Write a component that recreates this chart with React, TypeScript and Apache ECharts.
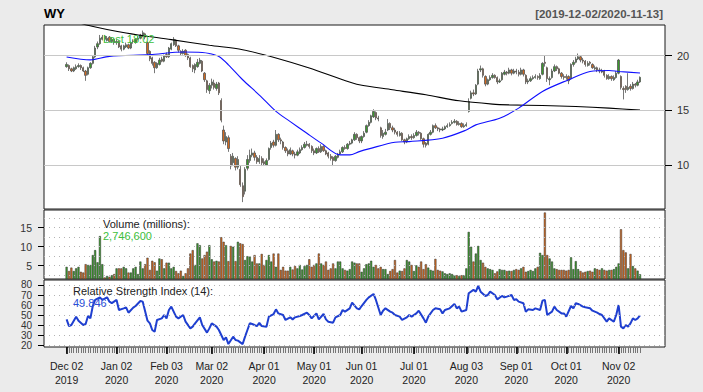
import React, { useEffect, useRef } from 'react';
import * as echarts from 'echarts';

const SYMBOL = 'WY';
const START = '2019-12-02';
const END = '2020-11-13';
const HOLIDAYS = ['2019-12-25', '2020-01-01', '2020-01-20', '2020-02-17', '2020-04-10', '2020-05-25', '2020-07-03', '2020-09-07'];
const MONTHS = ['Jan', 'Feb', 'Mar', 'Apr', 'May', 'Jun', 'Jul', 'Aug', 'Sep', 'Oct', 'Nov', 'Dec'];

const opens = [
  19.0, 19.1, 18.8, 18.6, 18.8, 19.0, 19.1, 18.9, 18.6, 18.3, 18.9, 19.3, 19.9, 20.8, 21.1, 21.5, 21.8, 21.4, 21.7, 21.3, 21.5,
  21.2, 21.3, 20.9, 20.6, 20.8, 21.0, 20.7, 21.3, 21.2, 21.5, 21.6, 21.8, 22.0, 21.2, 20.4, 19.8, 19.4, 18.9, 19.2, 19.7, 19.5,
  20.1, 19.9, 20.6, 21.0, 21.4, 20.9, 20.4, 20.2, 20.5, 20.1, 19.8, 19.1, 18.7, 19.0, 19.3, 19.5, 18.4, 17.7, 16.8,
  17.3, 17.5, 17.0, 17.5, 15.9, 13.2, 12.1, 12.5, 10.8, 10.2, 10.6, 9.8, 9.6, 8.1, 7.6, 9.7, 10.4, 10.9, 11.1, 10.7, 10.3, 10.6,
  10.3, 10.0, 10.5, 11.6, 12.1, 11.8, 12.8, 12.3, 12.1, 11.6, 11.3, 11.0, 11.3, 11.0, 10.9, 11.1, 11.4, 11.6, 11.8, 11.9, 11.7,
  11.3, 11.1, 11.5, 11.2, 11.7, 11.3, 11.1, 10.8, 10.7, 10.4, 10.7, 11.0, 11.2, 11.6, 11.5, 11.9, 12.0, 12.3, 12.8, 12.5,
  12.2, 12.6, 13.0, 13.6, 13.9, 14.4, 14.8, 14.3, 13.4, 12.6, 12.8, 13.2, 13.8, 13.4, 13.2, 13.0, 12.7, 12.9, 12.3, 12.1, 12.4, 12.6,
  12.5, 12.7, 13.0, 12.9, 12.4, 12.0, 11.9, 12.8, 13.0, 13.6, 13.4, 13.3, 13.2, 13.3, 13.5, 13.6, 13.8, 13.9, 14.0, 13.7, 13.8, 13.5,
  13.6, 14.9, 16.1, 16.6, 16.5, 17.4, 18.7, 18.8, 18.1, 17.4, 17.8, 18.0, 18.2, 18.0, 17.6, 17.8, 18.3, 18.5, 18.4, 18.7, 18.4,
  18.6, 18.5, 18.3, 18.7, 18.2, 17.6, 17.7, 17.9, 18.0, 18.1, 17.9, 18.3, 19.4, 18.9, 17.8, 18.0, 18.6, 19.0, 18.8, 18.4, 18.1,
  18.1, 18.1, 17.9, 19.2, 19.4, 19.7, 19.9, 19.6, 19.5, 19.1, 19.4, 19.2, 18.8, 18.9, 18.7, 18.5, 18.6, 18.2, 17.9, 18.1, 17.8, 18.0,
  18.4, 18.1, 17.0, 17.2, 16.9, 17.2, 17.0, 17.4, 17.3, 17.6,
];

const highs = [
  19.4, 19.2, 18.9, 19.0, 19.2, 19.3, 19.2, 19.0, 18.7, 19.0, 19.4, 20.0, 20.9, 21.3, 21.9, 21.9, 21.9, 21.8, 21.8, 21.7, 21.6,
  21.5, 21.4, 21.0, 21.0, 21.2, 21.1, 21.3, 21.5, 21.6, 21.8, 22.0, 22.3, 22.1, 21.3, 20.5, 19.9, 19.5, 19.4, 19.8, 19.9, 20.1,
  20.3, 20.8, 21.2, 21.7, 21.5, 21.0, 20.5, 20.6, 20.6, 20.2, 19.9, 19.2, 19.3, 19.7, 19.8, 19.6, 18.5, 17.8, 17.5,
  17.9, 17.8, 17.6, 17.6, 16.1, 13.6, 13.0, 12.7, 11.0, 11.1, 10.7, 10.8, 9.9, 8.4, 9.8, 10.9, 11.4, 11.5, 11.3, 10.9, 10.9, 10.8,
  10.6, 10.6, 11.6, 12.2, 12.3, 13.2, 12.9, 12.5, 12.2, 11.7, 11.5, 11.6, 11.4, 11.2, 11.4, 11.6, 11.8, 12.1, 12.2, 12.0, 11.8,
  11.5, 11.6, 11.7, 11.9, 11.8, 11.4, 11.2, 11.0, 10.8, 10.9, 11.1, 11.4, 11.7, 11.8, 12.0, 12.2, 12.4, 13.0, 12.9, 12.6,
  12.7, 13.1, 13.7, 14.1, 14.6, 15.1, 14.9, 14.5, 13.5, 13.2, 13.3, 14.2, 13.9, 13.6, 13.4, 13.1, 13.1, 13.0, 12.4, 12.5, 12.8, 12.8,
  12.9, 13.2, 13.1, 13.0, 12.5, 12.1, 12.9, 13.2, 13.7, 13.8, 13.5, 13.4, 13.5, 13.6, 13.8, 13.9, 14.1, 14.2, 14.1, 14.0, 13.9, 13.8,
  13.9, 16.1, 16.8, 16.9, 17.4, 18.8, 19.1, 18.9, 18.2, 17.9, 18.2, 18.4, 18.3, 18.1, 17.9, 18.5, 18.7, 18.6, 18.9, 18.8, 18.8,
  18.8, 18.7, 18.9, 18.8, 18.3, 17.9, 18.1, 18.2, 18.3, 18.2, 18.4, 19.4, 20.0, 19.0, 18.1, 18.8, 19.2, 19.1, 18.9, 18.5, 18.3,
  18.3, 18.2, 19.3, 19.6, 19.9, 20.2, 20.0, 19.8, 19.6, 19.5, 19.5, 19.3, 19.1, 19.0, 18.9, 18.8, 18.7, 18.3, 18.3, 18.2, 18.2, 18.6,
  19.7, 18.2, 17.2, 17.3, 18.4, 17.4, 17.6, 17.5, 17.8, 18.1,
];

const lows = [
  18.9, 18.6, 18.5, 18.5, 18.7, 18.9, 18.7, 18.5, 17.7, 18.2, 18.8, 19.2, 19.8, 20.6, 21.0, 21.4, 21.3, 21.3, 21.2, 21.2, 21.0,
  21.0, 20.7, 20.4, 20.5, 20.7, 20.6, 20.6, 21.1, 21.1, 21.4, 21.5, 21.7, 21.5, 20.0, 19.5, 19.1, 18.4, 18.8, 19.1, 19.4, 19.4,
  19.8, 19.8, 20.5, 20.9, 20.8, 20.3, 20.0, 20.1, 19.9, 19.6, 18.9, 18.5, 18.4, 18.9, 19.2, 18.5, 17.6, 16.6, 16.5,
  17.0, 16.9, 16.8, 16.4, 13.9, 11.9, 11.8, 11.2, 9.6, 9.9, 9.5, 9.6, 8.0, 6.6, 7.3, 9.5, 10.2, 10.7, 10.4, 10.1, 10.1, 9.9,
  9.9, 9.9, 10.4, 11.4, 11.6, 11.7, 12.1, 11.9, 11.4, 11.1, 10.8, 10.9, 10.8, 10.6, 10.8, 11.0, 11.3, 11.5, 11.7, 11.5, 11.1,
  10.9, 11.0, 11.1, 11.1, 11.2, 10.9, 10.6, 10.4, 9.9, 10.3, 10.6, 10.9, 11.1, 11.4, 11.4, 11.8, 11.9, 12.2, 12.3, 12.0,
  12.0, 12.5, 12.9, 13.5, 13.8, 14.3, 14.1, 14.0, 12.5, 12.4, 12.7, 13.1, 13.2, 13.0, 12.8, 12.6, 12.6, 12.2, 11.9, 12.0, 12.3, 12.3,
  12.4, 12.6, 12.7, 12.3, 11.6, 11.6, 11.8, 12.7, 12.9, 13.3, 13.1, 13.0, 13.1, 13.2, 13.4, 13.5, 13.7, 13.8, 13.6, 13.6, 13.4, 13.4,
  13.5, 14.8, 16.0, 16.3, 16.4, 17.3, 18.5, 18.0, 17.2, 17.3, 17.7, 17.9, 17.9, 17.4, 17.5, 17.7, 18.2, 18.2, 18.3, 18.2, 18.3,
  18.3, 18.1, 18.2, 18.1, 17.4, 17.4, 17.6, 17.8, 17.9, 17.8, 17.8, 18.2, 19.0, 17.6, 17.3, 17.9, 18.5, 18.6, 18.3, 17.9, 17.8,
  17.8, 17.4, 17.8, 19.0, 19.3, 19.6, 19.4, 19.3, 19.0, 19.0, 19.1, 18.8, 18.7, 18.5, 18.4, 18.4, 18.0, 17.8, 17.8, 17.7, 17.7, 17.9,
  18.3, 16.9, 16.0, 16.6, 16.8, 16.8, 16.9, 17.1, 17.2, 17.5,
];

const closes = [
  19.2, 18.8, 18.6, 18.9, 19.0, 19.1, 18.9, 18.6, 18.2, 18.9, 19.3, 19.9, 20.7, 21.1, 21.6, 21.7, 21.5, 21.6, 21.3, 21.5, 21.2,
  21.3, 20.8, 20.6, 20.9, 21.0, 20.7, 21.2, 21.3, 21.5, 21.6, 21.9, 22.1, 21.7, 20.2, 19.7, 19.3, 18.9, 19.3, 19.6, 19.5, 20.0,
  19.9, 20.7, 21.1, 21.5, 20.9, 20.5, 20.2, 20.4, 20.0, 19.8, 19.0, 18.8, 19.2, 19.4, 19.6, 18.6, 17.8, 16.9, 17.3,
  17.6, 17.1, 17.4, 16.6, 14.1, 12.2, 12.6, 11.5, 9.9, 10.8, 9.8, 10.5, 8.2, 7.1, 9.6, 10.5, 10.9, 11.1, 10.7, 10.3, 10.6, 10.2,
  10.1, 10.4, 11.5, 12.0, 11.8, 12.8, 12.3, 12.2, 11.6, 11.3, 11.0, 11.4, 11.0, 10.9, 11.2, 11.4, 11.6, 11.9, 11.9, 11.7, 11.3,
  11.1, 11.5, 11.2, 11.7, 11.3, 11.0, 10.8, 10.6, 10.4, 10.8, 11.0, 11.2, 11.6, 11.5, 11.9, 12.0, 12.3, 12.8, 12.5, 12.2,
  12.6, 12.9, 13.6, 13.9, 14.5, 14.9, 14.3, 14.2, 12.7, 12.9, 13.0, 13.8, 13.4, 13.2, 13.0, 12.8, 12.9, 12.3, 12.1, 12.4, 12.6, 12.5,
  12.7, 13.0, 12.9, 12.4, 11.9, 11.8, 12.8, 13.0, 13.6, 13.4, 13.3, 13.2, 13.3, 13.5, 13.6, 13.7, 13.9, 14.0, 13.7, 13.8, 13.5, 13.6,
  13.7, 15.8, 16.6, 16.5, 17.3, 18.6, 18.8, 18.2, 17.4, 17.8, 18.0, 18.2, 18.0, 17.6, 17.7, 18.4, 18.5, 18.4, 18.7, 18.4, 18.6,
  18.5, 18.3, 18.7, 18.3, 17.6, 17.7, 17.9, 18.0, 18.1, 18.0, 18.2, 19.3, 19.3, 17.9, 17.9, 18.6, 19.0, 18.8, 18.4, 18.1, 18.0,
  18.0, 17.7, 19.2, 19.4, 19.7, 19.9, 19.6, 19.5, 19.2, 19.3, 19.3, 18.9, 18.9, 18.7, 18.6, 18.6, 18.2, 17.9, 18.1, 17.9, 18.0, 18.4,
  19.6, 17.1, 16.9, 16.9, 17.1, 17.0, 17.4, 17.3, 17.6, 18.02,
];

// volume, millions of shares
const volumes = [
  4.7, 3.6, 4.5, 3.6, 4.3, 4.7, 3.4, 3.2, 5.4, 5.2, 5.2, 7.8, 9.1, 5.9, 12.8, 5.4, 1.9, 2.3, 2.1, 2.5, 2.8,
  4.3, 4.3, 4.3, 4.7, 4.3, 3.2, 3.2, 4.3, 4.7, 2.8, 6.1, 4.3, 5.4, 7.1, 3.9, 6.3, 5.9, 3.7, 6.9, 6.7, 4.3,
  5.8, 5.8, 4.3, 4.7, 3.6, 3.0, 3.7, 2.3, 3.0, 4.3, 8.2, 9.1, 5.2, 10.9, 10.4, 6.9, 7.8, 8.7, 10.4,
  6.7, 6.1, 6.3, 6.1, 12.5, 11.3, 10.4, 6.2, 10.2, 10.0, 6.2, 11.3, 10.9, 10.7, 6.5, 7.5, 7.4, 6.1, 7.8, 5.6, 5.6, 8.1,
  5.2, 6.5, 7.8, 6.1, 8.2, 4.7, 8.2, 3.9, 4.7, 3.7, 3.7, 4.7, 4.0, 4.9, 4.3, 5.2, 4.0, 4.9, 5.2, 6.7, 4.7,
  5.2, 5.6, 8.2, 5.6, 5.2, 6.1, 3.9, 4.3, 5.6, 4.3, 6.1, 6.1, 4.3, 3.9, 3.7, 4.1, 6.1, 5.8, 5.6, 5.6,
  3.4, 4.3, 5.4, 5.6, 6.3, 4.7, 5.2, 4.3, 4.7, 4.1, 4.1, 2.8, 3.6, 4.1, 6.5, 3.2, 3.7, 3.6, 4.3, 6.5, 6.1, 5.2,
  3.6, 5.1, 4.7, 6.1, 4.1, 5.4, 4.5, 3.9, 3.7, 6.8, 3.9, 3.7, 3.5, 3.0, 2.8, 3.0, 2.8, 2.5, 2.5, 2.3, 2.5, 2.5,
  4.3, 13.9, 10.0, 6.1, 8.2, 10.2, 6.5, 5.8, 4.7, 4.3, 4.1, 3.9, 3.0, 3.5, 4.1, 3.9, 3.9, 3.6, 3.7, 3.6, 3.9,
  4.1, 3.9, 4.3, 4.7, 3.4, 3.6, 3.9, 3.6, 4.3, 4.7, 8.4, 7.8, 19.0, 7.8, 6.9, 6.1, 4.3, 4.1, 3.9, 3.9, 3.9,
  3.7, 3.9, 7.2, 4.1, 6.2, 4.1, 3.6, 3.2, 3.4, 3.6, 3.7, 3.4, 4.3, 4.1, 3.9, 4.3, 3.9, 3.7, 3.9, 3.9, 4.1, 4.7,
  5.6, 14.6, 9.1, 8.5, 4.3, 8.1, 4.9, 4.3, 3.7, 2.7466,
];

// [trading-day index, value]
const sma50Pts = [
  [0, 19.88], [10, 19.62], [18, 19.94], [35, 20.1], [49, 20.34], [57, 20.3], [60, 20.2], [64, 19.92], [68, 19.17],
  [74, 17.8], [81, 16.4], [88, 14.9], [94, 13.97], [101, 12.9], [107, 12.0], [115, 10.92], [119, 10.92], [123, 11.22],
  [127, 11.47], [138, 12.08], [144, 12.14], [158, 12.45], [168, 13.2], [172, 13.67], [182, 14.28], [190, 15.2],
  [200, 16.73], [211, 17.8], [220, 18.56], [228, 18.65], [232, 18.56], [241, 18.41],
];

const sma200Pts = [
  [0, 23.4], [8, 22.84], [25, 22.08], [44, 21.47], [60, 20.95], [74, 20.55], [88, 19.79], [102, 18.87], [116, 17.8],
  [123, 17.34], [137, 16.88], [151, 16.42], [165, 15.87], [179, 15.57], [186, 15.5], [200, 15.44], [214, 15.35],
  [228, 15.2], [241, 15.02],
];

const rsiPts = [
  [0, 46], [1, 39.4], [2, 40.4], [4, 48.7], [5, 44.7], [7, 40.4], [8, 41.4], [9, 49.3], [10, 47], [11, 59.2], [12, 65.2],
  [14, 67.8], [15, 65.2], [17, 67.8], [18, 63.5], [19, 62], [21, 65.2], [22, 55.3], [24, 56.9], [25, 57.9], [26, 52.6],
  [28, 57.6], [29, 59.2], [31, 64.2], [32, 63.5], [34, 44.7], [35, 42.1], [36, 35.5], [37, 33.8], [38, 45.4], [40, 47],
  [41, 50.3], [42, 47], [43, 55.3], [44, 58.6], [46, 48.7], [47, 47], [49, 50.3], [50, 43.7], [52, 37.1], [53, 38.8],
  [54, 42.1], [56, 48], [57, 40.4], [59, 32.9], [60, 37.1], [61, 42.1], [63, 38.8], [64, 35.5], [66, 25.6], [67, 28.2],
  [68, 21.6], [70, 28.9], [71, 25.6], [72, 25], [74, 21.6], [75, 28.9], [76, 35.5], [77, 42.1], [78, 41.4], [80, 39.4],
  [81, 42.7], [82, 39.4], [84, 38.8], [85, 48.7], [87, 51.3], [88, 55.9], [89, 51.9], [91, 50.3], [92, 45.4], [94, 48],
  [95, 46], [96, 48], [98, 49.3], [99, 50.3], [101, 52.6], [102, 50.3], [103, 47], [105, 51.9], [106, 46], [108, 51.3],
  [109, 46], [110, 43.7], [112, 42.7], [113, 48], [115, 50.3], [116, 55.3], [117, 53.6], [119, 56.9], [120, 62.5],
  [122, 56.9], [123, 55.9], [124, 59.2], [126, 65.2], [127, 67.8], [129, 71.1], [130, 65.2], [132, 50.3], [133, 54.6],
  [134, 56.9], [136, 53.6], [137, 52.6], [138, 50.3], [140, 48.7], [141, 45.4], [143, 48], [144, 50.3], [145, 48.7],
  [147, 51.9], [148, 54.6], [150, 47], [151, 42.7], [152, 48.7], [154, 55.3], [155, 56.9], [157, 55.9], [158, 51.9],
  [159, 55.3], [161, 56.9], [163, 61.2], [164, 56.9], [165, 58.6], [166, 53.6], [168, 55.3], [169, 71.8], [171, 75.1],
  [172, 73.4], [173, 79], [174, 73.4], [176, 69.1], [177, 70.1], [178, 73.4], [180, 70.1], [181, 65.8], [183, 69.1],
  [184, 67.8], [185, 68.5], [187, 70.1], [188, 65.2], [189, 65.8], [190, 63.5], [192, 61.9], [193, 53.6], [194, 55.9],
  [196, 55.3], [197, 56.9], [199, 55.3], [200, 64.5], [201, 65.2], [202, 50.3], [204, 53.6], [205, 58.6], [206, 55.3],
  [208, 51.9], [209, 51.9], [210, 48.7], [212, 59.2], [213, 56.9], [214, 61.9], [215, 61.2], [217, 58.6], [218, 57.9],
  [220, 56.9], [221, 54.6], [223, 52.6], [224, 51.3], [225, 50.3], [227, 43.7], [228, 47], [230, 43.7], [231, 50.3],
  [232, 60.2], [233, 38.8], [234, 37.1], [235, 40.4], [236, 38.8], [237, 42.1], [238, 47], [239, 45.4], [240, 47],
  [241, 49.846],
];

const priceTicks = [10, 15, 20];
const volTicks = [5, 10, 15];
const volGridLines = [2.5, 5, 7.5, 10, 12.5, 15, 17.5];
const rsiTicks = [20, 30, 40, 50, 60, 70, 80];

const PRICE_RANGE = [5.97, 22.81];
const VOL_RANGE = [1.5, 19.66];
const RSI_RANGE = [18.7, 84.9];

const PAD_L = 9;
const PAD_R = 10;
const FONT = '"Liberation Sans", Arial, Helvetica, sans-serif';
const UP = '#3a9a2c';
const DOWN = '#d2691e';

function tradingDays(start: string, end: string, holidays: string[]): string[] {
  const out: string[] = [];
  const d = new Date(start + 'T00:00:00Z');
  const e = new Date(end + 'T00:00:00Z');
  while (d.getTime() <= e.getTime()) {
    const wd = d.getUTCDay();
    const s = d.toISOString().slice(0, 10);
    if (wd !== 0 && wd !== 6 && holidays.indexOf(s) < 0) out.push(s);
    d.setUTCDate(d.getUTCDate() + 1);
  }
  return out;
}

export default function App() {
  const ref = useRef<HTMLDivElement>(null);

  useEffect(() => {
    document.body.style.margin = '0';
    document.body.style.background = '#ebebeb';
    const chart = echarts.init(ref.current!, null, { renderer: 'svg' });

    const dates = tradingDays(START, END, HOLIDAYS);
    const padL = Array.from({ length: PAD_L }, (_, k) => '_L' + k);
    const padR = Array.from({ length: PAD_R }, (_, k) => '_R' + k);
    const cats = [...padL, ...dates, ...padR];

    const monthStarts = new Set<string>();
    dates.forEach((d, i) => {
      if (i === 0 || d.slice(0, 7) !== dates[i - 1].slice(0, 7)) monthStarts.add(d);
    });
    const isReal = (_i: number, v: string) => typeof v === 'string' && !v.startsWith('_');
    const isMonth = (_i: number, v: string) => monthStarts.has(v);
    const fmtDate = (v: string) => {
      if (!monthStarts.has(v)) return '';
      const [y, m, d] = v.split('-');
      return MONTHS[parseInt(m, 10) - 1] + ' ' + d + '\n' + y;
    };

    const emptyL = padL.map(() => '-');
    const emptyR = padR.map(() => '-');
    const candleData: any[] = [
      ...padL.map(() => ['-', '-', '-', '-']),
      ...closes.map((c, i) => [opens[i], c, lows[i], highs[i]]),
      ...padR.map(() => ['-', '-', '-', '-']),
    ];
    const volData: any[] = [
      ...emptyL,
      ...volumes.map((v, i) => ({ value: v, itemStyle: { color: closes[i] >= opens[i] ? UP : DOWN } })),
      ...emptyR,
    ];
    const shift = (pts: number[][]) => pts.map(([i, v]) => [i + PAD_L, v]);

    const last = closes.length - 1;
    const lastClose = closes[last].toFixed(2);
    const lastVol = Math.round(volumes[last] * 1e6).toLocaleString('en-US');
    const lastRsi = rsiPts[rsiPts.length - 1][1].toFixed(3);

    const gridBase = { left: 44, width: 621, show: true, backgroundColor: '#ffffff', borderColor: '#1a1a1a', borderWidth: 1 };
    const hiddenX = (gi: number) => ({ type: 'category', gridIndex: gi, data: cats, show: false, boundaryGap: true });
    const axisText = { fontFamily: FONT, fontSize: 10.5, color: '#333' };

    const gridMark = (vals: number[], style: any) => ({
      silent: true,
      symbol: ['none', 'none'],
      label: { show: false },
      emphasis: { disabled: true },
      animation: false,
      lineStyle: style,
      data: vals.map((v) => ({ yAxis: v })),
    });

    const option: any = {
      animation: false,
      backgroundColor: '#ebebeb',
      textStyle: { fontFamily: FONT },
      grid: [
        { ...gridBase, top: 25, height: 184 },
        { ...gridBase, top: 210, height: 69 },
        { ...gridBase, top: 280, height: 67 },
      ],
      xAxis: [
        hiddenX(0),
        hiddenX(1),
        {
          type: 'category', gridIndex: 2, data: cats, boundaryGap: true, position: 'bottom', offset: 0,
          axisLine: { show: false },
          axisTick: { show: true, interval: isReal, alignWithLabel: true, length: 6, lineStyle: { color: '#777', width: 1 } },
          axisLabel: { show: false },
          splitLine: { show: false },
        },
        {
          type: 'category', gridIndex: 2, data: cats, boundaryGap: true, position: 'bottom', offset: 0,
          axisLine: { show: false },
          axisTick: { show: true, interval: isMonth, alignWithLabel: true, length: 7, lineStyle: { color: '#000', width: 1.6 } },
          axisLabel: { show: true, interval: isMonth, formatter: fmtDate, margin: 12, lineHeight: 14, ...axisText, color: '#222' },
          splitLine: { show: false },
        },
      ],
      yAxis: [
        {
          type: 'value', gridIndex: 0, position: 'right', min: PRICE_RANGE[0], max: PRICE_RANGE[1],
          axisLine: { show: false },
          axisTick: { show: true, customValues: priceTicks, length: 7, lineStyle: { color: '#000' } },
          axisLabel: { show: true, customValues: priceTicks, margin: 12, showMinLabel: true, showMaxLabel: true, ...axisText, fontSize: 11 },
          splitLine: { show: false },
        },
        {
          type: 'value', gridIndex: 1, position: 'left', min: VOL_RANGE[0], max: VOL_RANGE[1],
          axisLine: { show: false },
          axisTick: { show: true, customValues: volTicks, length: 6, lineStyle: { color: '#000' } },
          axisLabel: { show: true, customValues: volTicks, margin: 12, showMinLabel: true, showMaxLabel: true, ...axisText },
          splitLine: { show: false },
        },
        {
          type: 'value', gridIndex: 2, position: 'left', min: RSI_RANGE[0], max: RSI_RANGE[1],
          axisLine: { show: false },
          axisTick: { show: true, customValues: rsiTicks, length: 6, lineStyle: { color: '#000' } },
          axisLabel: {
            show: true, customValues: rsiTicks, margin: 12, showMinLabel: true, showMaxLabel: true, hideOverlap: false,
            ...axisText, fontSize: 10, lineHeight: 9,
          },
          splitLine: { show: false },
        },
      ],
      series: [
        {
          type: 'line', xAxisIndex: 0, yAxisIndex: 0, data: [], z: 1, silent: true,
          markLine: gridMark(priceTicks, { color: '#c8c8c8', width: 1, type: 'solid' }),
        },
        {
          type: 'line', xAxisIndex: 1, yAxisIndex: 1, data: [], z: 1, silent: true,
          markLine: gridMark(volGridLines, { color: '#b4b4b4', width: 1, type: [1, 4] }),
        },
        {
          type: 'line', xAxisIndex: 2, yAxisIndex: 2, data: [], z: 1, silent: true,
          markLine: gridMark(rsiTicks, { color: '#b4b4b4', width: 1, type: [1, 4] }),
        },
        {
          name: 'price', type: 'candlestick', xAxisIndex: 0, yAxisIndex: 0, data: candleData, barWidth: 1.8, clip: true,
          itemStyle: { color: UP, color0: DOWN, borderColor: '#555', borderColor0: '#555', borderWidth: 0.8 },
        },
        {
          name: 'sma200', type: 'line', xAxisIndex: 0, yAxisIndex: 0, data: shift(sma200Pts), showSymbol: false,
          smooth: 0.3, clip: true, lineStyle: { color: '#000', width: 1.1 }, z: 3,
        },
        {
          name: 'sma50', type: 'line', xAxisIndex: 0, yAxisIndex: 0, data: shift(sma50Pts), showSymbol: false,
          smooth: 0.3, clip: true, lineStyle: { color: '#1010ff', width: 1.1 }, z: 3,
        },
        {
          name: 'volume', type: 'bar', xAxisIndex: 1, yAxisIndex: 1, data: volData, barCategoryGap: '12%',
          itemStyle: { borderColor: '#333', borderWidth: 0.5 },
        },
        {
          name: 'rsi', type: 'line', xAxisIndex: 2, yAxisIndex: 2, data: shift(rsiPts), showSymbol: false,
          lineStyle: { color: '#1f3fd0', width: 2 },
        },
      ],
      graphic: [
        { type: 'text', x: 44, y: 13.5, style: { text: SYMBOL, fill: '#000', font: `bold 13px ${FONT}`, align: 'left', verticalAlign: 'middle' } },
        { type: 'text', x: 663, y: 13.5, style: { text: `[${START}/${END}]`, fill: '#555', font: `bold 11.5px ${FONT}`, align: 'right', verticalAlign: 'middle' } },
        { type: 'text', x: 103, y: 38.5, z: 10, style: { text: `Last ${lastClose}`, fill: '#3cc03c', font: `11px ${FONT}`, align: 'left', verticalAlign: 'middle' } },
        { type: 'text', x: 103, y: 224, z: 10, style: { text: 'Volume (millions):', fill: '#222', font: `11px ${FONT}`, align: 'left', verticalAlign: 'middle' } },
        { type: 'text', x: 103, y: 235.5, z: 10, style: { text: lastVol, fill: '#3cc03c', font: `11px ${FONT}`, align: 'left', verticalAlign: 'middle' } },
        { type: 'text', x: 73, y: 290.5, z: 10, style: { text: 'Relative Strength Index (14):', fill: '#222', font: `11px ${FONT}`, align: 'left', verticalAlign: 'middle' } },
        { type: 'text', x: 73, y: 302.5, z: 10, style: { text: lastRsi, fill: '#2a4fd8', font: `11px ${FONT}`, align: 'left', verticalAlign: 'middle' } },
      ],
    };

    chart.setOption(option);
    return () => chart.dispose();
  }, []);

  return <div ref={ref} style={{ width: 703, height: 392 }} />;
}
